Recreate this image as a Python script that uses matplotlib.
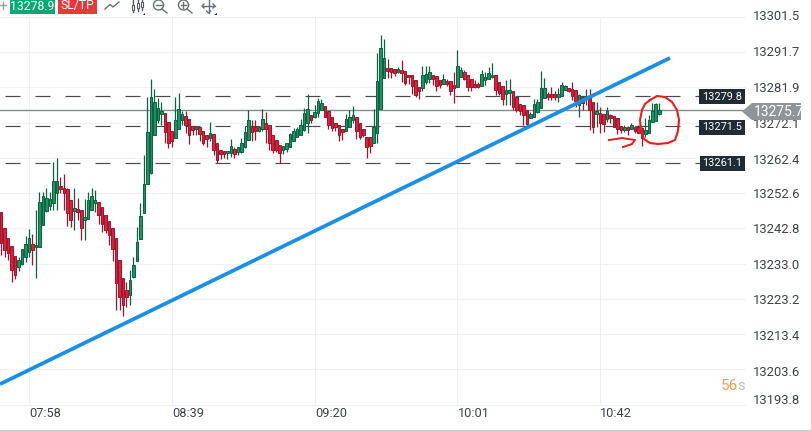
import numpy as np
import matplotlib
matplotlib.use("Agg")
import matplotlib.pyplot as plt
from matplotlib.patches import Polygon, Rectangle

plt.rcParams['font.family'] = ['Roboto', 'DejaVu Sans']

# minutes relative to 07:58, one candle per minute
minutes = list(range(-8, 182))

opens = [
13247.3,13243.0,13240.2,13238.0,13235.1,13232.1,13233.0,13234.7,13236.3,13238.4,
13237.5,13237.6,13243.6,13247.5,13249.1,13249.9,13252.6,13254.5,13254.1,13253.6,
13250.6,13247.6,13248.1,13248.0,13245.2,13245.4,13248.0,13249.7,13250.2,13248.6,
13246.6,13244.7,13243.0,13240.2,13234.1,13229.1,13225.6,13224.3,13229.3,13233.8,
13239.9,13247.1,13255.1,13258.1,13268.6,13272.9,13274.4,13274.7,13272.4,13269.7,
13267.9,13270.3,13272.9,13274.0,13273.1,13271.2,13270.3,13270.8,13269.9,13268.6,
13267.8,13269.0,13266.4,13264.5,13264.2,13263.6,13263.6,13264.7,13264.1,13264.1,
13265.3,13267.3,13271.0,13270.8,13269.9,13270.3,13271.9,13271.4,13268.8,13267.3,
13265.8,13264.5,13264.9,13265.5,13266.9,13268.1,13268.8,13270.1,13272.1,13274.3,
13273.6,13274.7,13275.6,13276.8,13275.4,13273.6,13272.0,13271.4,13270.4,13269.8,
13271.0,13272.9,13273.8,13272.0,13270.3,13268.1,13268.1,13266.6,13269.2,13276.0,
13284.4,13287.3,13287.3,13286.9,13286.3,13286.7,13286.4,13285.4,13285.3,13284.0,
13282.0,13281.7,13283.4,13284.2,13285.3,13285.1,13284.0,13283.0,13283.8,13283.6,
13282.6,13282.1,13284.7,13286.2,13285.3,13284.2,13283.0,13283.0,13282.3,13284.0,
13284.3,13284.7,13285.3,13283.4,13282.3,13280.1,13280.3,13280.8,13279.2,13277.3,
13276.9,13275.6,13273.5,13273.8,13275.2,13276.3,13278.9,13280.2,13280.2,13280.0,
13279.3,13279.6,13281.1,13281.7,13281.5,13281.2,13277.0,13279.3,13278.7,13279.0,
13277.9,13274.5,13274.7,13274.5,13273.2,13274.2,13274.0,13273.3,13271.2,13270.1,
13270.8,13270.3,13270.8,13270.8,13270.6,13269.0,13269.3,13272.4,13272.7,13274.5]

closes = [
13238.8,13236.7,13235.8,13231.2,13229.9,13234.1,13236.9,13238.4,13240.1,13236.7,
13238.2,13250.1,13251.7,13251.2,13251.0,13255.8,13255.8,13253.8,13252.5,13247.1,
13245.2,13248.3,13247.4,13242.8,13245.8,13250.6,13251.7,13250.6,13246.4,13244.1,
13242.3,13240.8,13237.1,13227.6,13223.8,13221.5,13223.8,13228.4,13232.6,13239.0,
13246.2,13255.1,13269.5,13279.3,13277.9,13276.2,13275.3,13269.6,13266.4,13267.0,
13272.9,13275.8,13274.5,13271.6,13268.6,13270.1,13271.0,13269.0,13266.4,13267.7,
13269.2,13264.4,13261.8,13263.4,13263.4,13264.3,13265.7,13263.4,13265.3,13266.4,
13269.6,13272.9,13269.6,13269.9,13271.0,13273.1,13270.5,13266.4,13264.5,13264.4,
13263.8,13265.6,13266.4,13269.0,13269.7,13270.3,13271.4,13274.7,13275.8,13272.9,
13275.2,13278.1,13277.5,13273.8,13271.5,13270.6,13270.8,13268.8,13269.6,13273.1,
13273.6,13274.2,13269.9,13268.2,13268.6,13265.5,13265.7,13271.0,13283.8,13293.0,
13290.0,13286.4,13286.3,13286.0,13286.9,13285.8,13283.2,13284.7,13282.3,13279.7,
13281.0,13285.4,13285.6,13286.2,13284.2,13282.3,13282.7,13284.2,13282.9,13281.0,
13281.7,13288.0,13286.7,13284.2,13282.0,13282.1,13282.1,13282.1,13285.6,13284.9,
13286.0,13285.4,13281.2,13280.5,13278.6,13281.2,13281.2,13276.6,13275.6,13275.3,
13274.3,13271.8,13274.4,13277.3,13277.9,13281.7,13281.7,13279.3,13279.3,13279.3,
13280.2,13282.6,13282.4,13280.9,13279.6,13278.1,13279.8,13277.5,13279.6,13275.6,
13270.9,13275.4,13272.1,13271.8,13275.4,13273.3,13271.0,13270.5,13270.1,13271.0,
13270.1,13271.5,13269.9,13269.3,13267.8,13270.1,13272.9,13275.5,13277.3,13275.6]

highs = [
13247.3,13243.0,13240.2,13238.0,13235.1,13234.7,13237.1,13240.6,13242.7,13241.2,
13247.8,13253.0,13253.0,13254.0,13253.0,13261.1,13262.2,13256.9,13257.8,13254.0,
13250.6,13253.9,13251.1,13248.0,13250.8,13253.0,13253.9,13253.4,13250.2,13248.6,
13246.6,13244.7,13243.0,13240.2,13234.1,13229.1,13227.9,13231.2,13234.9,13243.2,
13249.7,13263.1,13279.3,13284.3,13281.4,13279.0,13277.9,13274.7,13272.4,13269.7,
13279.2,13280.3,13275.3,13275.3,13273.1,13271.2,13271.0,13270.8,13269.9,13268.6,
13272.4,13269.0,13266.4,13264.5,13264.2,13264.3,13267.7,13265.3,13265.3,13267.9,
13271.2,13275.7,13272.9,13272.9,13271.0,13275.8,13275.2,13271.4,13268.8,13267.3,
13265.8,13265.6,13266.6,13269.3,13270.6,13271.0,13273.1,13276.1,13280.0,13274.3,
13277.0,13278.9,13278.7,13276.8,13275.4,13273.6,13272.0,13271.4,13270.4,13274.5,
13275.7,13276.8,13273.8,13272.0,13270.3,13268.1,13268.1,13275.8,13291.4,13296.5,
13295.4,13289.8,13287.3,13286.9,13287.7,13289.5,13286.4,13285.4,13285.3,13284.0,
13282.0,13288.0,13288.0,13287.9,13285.3,13285.1,13284.0,13285.6,13284.2,13283.6,
13286.3,13292.3,13287.5,13286.7,13285.3,13284.2,13284.0,13283.5,13286.7,13286.2,
13287.7,13288.8,13285.3,13283.4,13282.3,13284.0,13284.2,13280.8,13279.2,13277.3,
13276.9,13275.6,13275.2,13278.6,13278.6,13286.5,13284.4,13280.7,13282.1,13280.9,
13281.7,13283.3,13282.6,13281.7,13283.3,13281.2,13280.0,13279.3,13281.5,13281.5,
13277.9,13278.0,13276.6,13274.5,13276.4,13274.6,13274.0,13273.3,13271.2,13271.5,
13271.2,13272.0,13271.2,13271.5,13270.8,13273.3,13274.2,13277.7,13277.7,13277.5]

lows = [
13235.3,13234.7,13234.1,13227.8,13228.6,13230.8,13232.6,13233.5,13234.7,13232.6,
13229.1,13237.5,13243.6,13247.3,13248.0,13247.8,13247.8,13252.5,13247.8,13243.4,
13243.2,13242.3,13245.1,13239.5,13239.5,13245.4,13247.8,13247.4,13244.0,13241.8,
13241.4,13238.1,13233.8,13220.2,13220.2,13218.4,13221.0,13221.5,13229.0,13233.8,
13239.7,13247.1,13255.1,13258.0,13268.6,13272.0,13271.5,13266.4,13265.0,13265.3,
13267.9,13270.3,13271.5,13269.2,13266.2,13268.6,13268.6,13267.1,13266.0,13265.5,
13267.1,13263.1,13260.8,13262.0,13262.3,13262.0,13262.5,13262.2,13263.1,13263.6,
13265.0,13267.3,13267.0,13267.3,13269.6,13269.9,13266.4,13264.5,13263.8,13264.0,
13260.8,13263.4,13264.0,13265.5,13266.9,13268.1,13268.6,13269.9,13269.2,13272.0,
13273.3,13273.6,13275.6,13273.6,13270.5,13269.9,13269.9,13266.9,13267.3,13269.8,
13271.0,13272.0,13267.5,13267.5,13268.1,13262.3,13263.8,13266.4,13266.4,13276.0,
13284.4,13284.5,13284.5,13285.1,13286.0,13283.5,13282.6,13283.0,13280.1,13279.3,
13278.8,13281.0,13283.0,13283.2,13282.6,13281.0,13281.7,13283.0,13282.3,13279.9,
13277.5,13282.1,13284.7,13284.0,13281.0,13281.0,13281.7,13281.8,13282.3,13282.6,
13284.2,13284.4,13279.8,13279.8,13277.0,13277.0,13277.0,13275.6,13275.2,13274.3,
13271.5,13271.2,13273.5,13273.8,13274.9,13276.3,13278.9,13278.4,13278.4,13278.4,
13277.8,13279.6,13281.1,13280.7,13278.4,13276.6,13273.8,13275.6,13277.0,13270.0,
13269.2,13271.0,13269.3,13269.6,13272.2,13272.0,13270.9,13269.0,13269.2,13269.6,
13268.7,13270.3,13269.2,13269.2,13265.6,13268.2,13269.3,13272.3,13272.5,13274.3]

price_ticks = [13301.5, 13291.7, 13281.9, 13272.1, 13262.4, 13252.6,
               13242.8, 13233.0, 13223.2, 13213.4, 13203.6, 13193.8]
time_positions = [0, 41, 82, 123, 164]
time_labels = ['07:58', '08:39', '09:20', '10:01', '10:42']
levels = [13279.8, 13271.5, 13261.1]
level_labels = ['13279.8', '13271.5', '13261.1']
last_price = 13275.7
trend_minutes = [-8.33, 184.1]
trend_prices = [13199.5, 13290.1]
buy_label = '13278.9'
sell_label = 'SL/TP'
countdown = '56'

W, H = 812, 432
GREEN_FILL, GREEN_EDGE = '#1c9362', '#0d6040'
RED_FILL, RED_EDGE = '#dc1f3c', '#9c162b'
TEXT = '#3d4248'

PX_PER_MIN = 3.482
PX_PER_PRICE = 3.6
Y_TOP = 13306.2

fig = plt.figure(figsize=(W / 100, H / 100), dpi=100, facecolor='white')
ax = fig.add_axes([0, 0, 1, 1])
ax.set_xlim(-29 / PX_PER_MIN, (W - 29) / PX_PER_MIN)
ax.set_ylim(Y_TOP - H / PX_PER_PRICE, Y_TOP)
ax.axis('off')


def dx(px):
    return (px - 29) / PX_PER_MIN


def dy(py):
    return Y_TOP - py / PX_PER_PRICE


# grid
for p in price_ticks:
    ax.plot([dx(0), dx(745)], [p, p], color='#f0f1f2', lw=0.8, zorder=1)
for m in time_positions:
    ax.plot([m, m], [dy(17), dy(405)], color='#eeeff0', lw=0.8, zorder=1)

# level dashes
for lv in levels:
    ax.plot([dx(5), dx(700)], [lv - 0.3, lv - 0.3], color='#4a4a4a', lw=0.85,
            dashes=(15 / (0.85 / 0.72), 15 / (0.85 / 0.72)), dash_capstyle='butt', zorder=2)

# last-price line
ax.plot([dx(0), dx(745)], [last_price, last_price], color='#868a8c', lw=1.0, zorder=2)

# candles
mins = np.array(minutes)
o, h, l, c = map(np.array, (opens, highs, lows, closes))
up = c >= o
edge = np.where(up, GREEN_EDGE, RED_EDGE)
fill = np.where(up, GREEN_FILL, RED_FILL)
ax.vlines(mins, l, h, colors=edge, lw=0.9, zorder=3)
ax.bar(mins, np.maximum(np.abs(c - o), 0.5), bottom=np.minimum(o, c), width=0.74,
       color=fill, edgecolor=edge, linewidth=0.7, zorder=4)

# trend line
ax.plot(trend_minutes, trend_prices, color='#1a8fe8', lw=2.7, solid_capstyle='butt', zorder=5)

# hand-drawn annotations
circle_x = [650, 657, 665, 672, 677, 679, 678, 675, 668, 658, 650, 644, 641, 640, 642, 645, 650]
circle_y = [100, 96, 97, 102, 110, 120, 131, 140, 143, 144, 143, 139, 130, 120, 110, 104, 100]
ax.plot([dx(x) for x in circle_x], [dy(y) for y in circle_y], color='#e51d1d', lw=1.5, zorder=6)
arrow_x = [609, 616, 622, 628, 635, 632, 623]
arrow_y = [140, 139, 138, 139, 140, 144, 147]
ax.plot([dx(x) for x in arrow_x], [dy(y) for y in arrow_y], color='#e51d1d', lw=1.4, zorder=6)

# price axis labels
label_y = [17, 53, 88, 124, 160, 195, 230, 266, 301, 337, 372, 401]
for p, y in zip(price_ticks, label_y):
    ax.text(dx(753), dy(y), f'{p:.1f}', fontsize=9.4, color=TEXT, ha='left', va='center', zorder=7)

# time labels
for m, lab in zip(time_positions, time_labels):
    ax.text(m + 0.1, dy(414), lab, fontsize=9.2, color=TEXT, ha='left', va='center', zorder=7)

# level boxes
for lv, lab, top in zip(levels, level_labels, [89.5, 119.5, 156]):
    x0 = 699.5 if lab != '13261.1' else 700
    ax.add_patch(Rectangle((dx(x0), dy(top + 15)), (745 - x0) / PX_PER_MIN, 15 / PX_PER_PRICE,
                           color='#202b33', lw=0, zorder=8))
    ax.text(dx(722.5), dy(top + 7.5), lab, fontsize=7.9, color='white', ha='center', va='center', zorder=9)

# last price tag
tag = [(742, 111.5), (752, 103), (801, 103), (801, 120), (752, 120)]
ax.add_patch(Polygon([(dx(a), dy(b)) for a, b in tag], closed=True, color='#8f9599', lw=0, zorder=8))
ax.text(dx(754), dy(112), f'{last_price:.1f}', fontsize=10, color='white', ha='left', va='center', zorder=9)

# countdown
ax.text(dx(720.5), dy(386), countdown, fontsize=11, color='#f39a4e', ha='left', va='center', zorder=7)
ax.text(dx(737), dy(386.5), 's', fontsize=10.5, color='#bdbdbd', ha='left', va='center', zorder=7)

# toolbar boxes
ax.add_patch(Rectangle((dx(10), dy(14)), 45 / PX_PER_MIN, 14 / PX_PER_PRICE, color='#0aa673', lw=0, zorder=8))
ax.text(dx(32.5), dy(6.5), buy_label, fontsize=8.8, color='white', ha='center', va='center', zorder=9)
ax.add_patch(Rectangle((dx(58), dy(14)), 39 / PX_PER_MIN, 14 / PX_PER_PRICE, color='#e8383a', lw=0, zorder=8))
ax.text(dx(77.5), dy(6), sell_label, fontsize=8.8, color='white', ha='center', va='center', zorder=9)


def stroke(xs, ys, color='#6a6f73', lw=1.0):
    ax.plot([dx(x) for x in xs], [dy(y) for y in ys], color=color, lw=lw, zorder=9)


def ring(cx, cy, r):
    t = np.linspace(0, 2 * np.pi, 40)
    stroke(cx + r * np.cos(t), cy + r * np.sin(t))


# toolbar icons
stroke([0, 6], [5.5, 5.5], '#9a9ea2')
stroke([3, 3], [2, 9], '#9a9ea2')
stroke([105, 110, 113, 119], [9, 4.5, 7, 2])
for cxx, top, bot, a, b in [(133, 0, 12, 5, 10), (138, 0, 11, 3, 8), (142, 0, 10, 2, 7)]:
    stroke([cxx, cxx], [top, bot], '#55595d')
    ax.add_patch(Rectangle((dx(cxx - 1.3), dy(b)), 2.6 / PX_PER_MIN, (b - a) / PX_PER_PRICE,
                           facecolor='white', edgecolor='#55595d', lw=0.8, zorder=9))
ring(158.5, 5, 5)
stroke([155.5, 161.5], [5, 5])
stroke([162, 167], [9, 13])
ring(183.5, 5, 5)
stroke([180.5, 186.5], [5, 5])
stroke([183.5, 183.5], [2, 8])
stroke([187, 192], [9, 13])
stroke([202, 215], [6, 6])
stroke([208.5, 208.5], [0, 13])
stroke([204, 202, 204], [4, 6, 8])
stroke([213, 215, 213], [4, 6, 8])
stroke([206.5, 208.5, 210.5], [11, 13, 11])
for xx in (145, 217):
    ax.add_patch(Polygon([(dx(xx - 2.5), dy(15)), (dx(xx), dy(15)), (dx(xx), dy(12.5))], closed=True,
                         color='#222222', lw=0, zorder=9))

# bottom axis separators and frame
ax.plot([dx(0), dx(745)], [dy(405.5), dy(405.5)], color='#eeeff0', lw=0.8, zorder=1)
ax.plot([dx(0), dx(812)], [dy(430.5), dy(430.5)], color='#c4c4c4', lw=1.2, zorder=9)
ax.plot([dx(811), dx(811)], [dy(0), dy(432)], color='#d4d4d4', lw=1.0, zorder=9)

fig.savefig('out.png', dpi=100, facecolor='white')
